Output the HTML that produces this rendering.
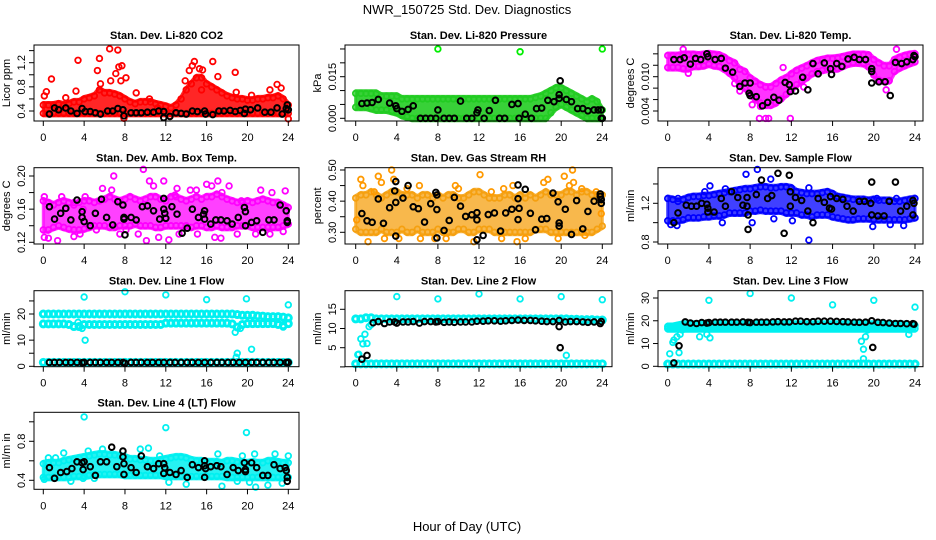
<!DOCTYPE html>
<html><head><meta charset="utf-8"><style>
html,body{margin:0;padding:0;background:#fff;}
svg{display:block;font-family:"Liberation Sans",sans-serif;}
</style></head><body>
<svg id="chart" width="936" height="540" viewBox="0 0 936 540">
<text x="467" y="14" font-size="13" text-anchor="middle">NWR_150725  Std. Dev. Diagnostics</text>
<text x="467" y="531" font-size="13" text-anchor="middle">Hour of Day (UTC)</text>
</svg>
<script>
const halfHours=[0,0.5,1,1.5,2,2.5,3,3.5,4,4.5,5,5.5,6,6.5,7,7.5,8,8.5,9,9.5,10,10.5,11,11.5,12,12.5,13,13.5,14,14.5,15,15.5,16,16.5,17,17.5,18,18.5,19,19.5,20,20.5,21,21.5,22,22.5,23,23.5,24];
const xTicks=[0,4,8,12,16,20,24];

// P1 CO2
const co2Lo=[0.36,0.36,0.36,0.36,0.36,0.36,0.36,0.36,0.36,0.36,0.36,0.36,0.36,0.36,0.36,0.36,0.36,0.36,0.36,0.36,0.36,0.36,0.36,0.36,0.36,0.36,0.36,0.36,0.36,0.36,0.36,0.36,0.36,0.36,0.36,0.36,0.36,0.36,0.36,0.36,0.36,0.36,0.36,0.36,0.36,0.36,0.36,0.36,0.36];
const co2Hi=[0.5,0.5,0.5,0.52,0.5,0.52,0.55,0.55,0.6,0.62,0.65,0.75,0.7,0.7,0.68,0.65,0.6,0.55,0.52,0.55,0.55,0.55,0.52,0.5,0.48,0.45,0.5,0.6,0.75,0.85,0.95,0.95,0.85,0.8,0.75,0.7,0.65,0.62,0.6,0.6,0.58,0.58,0.6,0.6,0.62,0.62,0.65,0.6,0.5];
const co2OutH=[0.1,0.3,0.8,2.2,3.2,3.4,5.3,5.5,5.6,6.5,6.6,7.1,7.3,7.4,7.7,7.6,8.1,7.9,9.1,10.4,13.9,14.3,14.6,14.8,15.3,15.6,15.5,16.6,17.1,18.8,18.9,22.2,22.9,23.3,24,20.4,11.2];
const co2OutV=[0.65,0.72,0.93,0.62,0.73,1.24,1.07,1.27,0.85,1.43,0.9,1.02,1.41,1.13,1.15,0.9,0.95,0.28,0.7,0.6,0.9,1.07,1.15,1.22,1.1,1.08,0.75,1.22,0.97,1.04,0.71,0.75,0.84,0.78,0.27,0.66,0.45];
const co2BlkH=[0.6,1.1,1.5,2.2,2.7,3.3,3.8,4.1,4.6,5.1,5.6,6.3,6.8,7.3,7.8,7.9,8.6,9.1,9.6,10.2,10.8,11.3,11.8,11.8,12.4,13.0,13.5,14.0,14.6,15.1,15.8,15.9,16.6,17.2,17.7,18.3,18.8,19.3,19.8,19.7,20.3,21.0,21.7,22.3,22.9,23.4,23.8,23.9,24.0];
const co2BlkV=[0.35,0.45,0.42,0.45,0.4,0.36,0.44,0.39,0.39,0.37,0.35,0.4,0.4,0.44,0.42,0.32,0.37,0.37,0.37,0.38,0.38,0.4,0.39,0.29,0.31,0.37,0.36,0.35,0.4,0.39,0.4,0.35,0.34,0.4,0.4,0.41,0.39,0.41,0.43,0.36,0.42,0.45,0.38,0.38,0.45,0.35,0.44,0.5,0.42];

// P2 Pressure
const presLo=[0.004,0.004,0.004,0.0035,0.003,0.003,0.003,0.0025,0.002,0.001,0.0005,0,0,0,0,0,0,0,0,0,0,0,0,0,0,0,0,0,0,0,0,0,0,0,0,0,0,0,0.002,0.004,0.005,0.004,0.003,0.002,0.001,0,0,0,0];
const presHi=[0.009,0.009,0.009,0.009,0.009,0.008,0.008,0.008,0.008,0.007,0.007,0.007,0.007,0.007,0.007,0.007,0.007,0.007,0.007,0.007,0.007,0.007,0.007,0.007,0.007,0.007,0.007,0.007,0.007,0.007,0.007,0.007,0.007,0.007,0.007,0.0075,0.008,0.009,0.01,0.011,0.011,0.01,0.009,0.008,0.007,0.006,0.007,0.006,0.003];
const presOutH=[8,16,24];
const presOutV=[0.025,0.024,0.025];
const presBlkH=[0.6,1.1,1.6,2.2,3.3,3.9,4.0,4.5,5.1,5.6,6.3,6.8,7.3,7.8,8.0,8.6,9.1,9.6,10.2,10.8,11.3,11.8,11.9,12.5,13.0,13.6,14.0,14.5,15.2,15.8,15.9,16.5,17.1,17.6,18.1,18.7,19.3,19.8,19.8,19.9,20.5,21.0,21.6,22.1,22.6,23.2,23.6,23.9,23.9,24];
const presBlkV=[0.0053,0.0055,0.0057,0.0068,0.0055,0.0045,0.0035,0.0025,0.0032,0.0045,0,0,0,0,0.003,0,0,0,0.0062,0,0,0.002,0.003,0,0.0028,0.0065,0,0,0.005,0.0053,0,0.0015,0,0.0035,0.0037,0.0065,0.006,0.0085,0.0072,0.0135,0.0068,0.006,0.0035,0.0035,0.0027,0.003,0.003,0.003,0,0];

// P3 Li-820 Temp
const litLo=[0.0116,0.0116,0.0116,0.0114,0.0114,0.0118,0.0118,0.0119,0.0122,0.0119,0.0118,0.0113,0.0106,0.0098,0.0088,0.008,0.0069,0.0061,0.0054,0.005,0.005,0.0054,0.0061,0.0069,0.0077,0.0086,0.0092,0.0098,0.0105,0.0109,0.0111,0.0113,0.0113,0.0114,0.0118,0.0122,0.0124,0.0124,0.0123,0.0117,0.0103,0.0094,0.0092,0.0093,0.0109,0.0115,0.0119,0.0123,0.0126];
const litHi=[0.0137,0.0137,0.0137,0.0139,0.0139,0.0139,0.0138,0.0139,0.014,0.0139,0.0138,0.0134,0.0128,0.0124,0.0113,0.0109,0.0098,0.0092,0.0086,0.0082,0.0082,0.0088,0.0094,0.0098,0.0105,0.0111,0.0115,0.0119,0.0124,0.0128,0.013,0.0132,0.0132,0.0133,0.0135,0.0137,0.0139,0.0139,0.0139,0.0138,0.013,0.0124,0.0119,0.0119,0.013,0.0134,0.0137,0.0139,0.014];
const litOutH=[1.5,2.0,8.9,9.5,9.8,11.9,8.2,7,6.5,22.2,21.2,13.2,11.2,9.0];
const litOutV=[0.0148,0.0106,0.0027,0.0027,0.0027,0.0027,0.0051,0.0075,0.0088,0.0148,0.0077,0.0082,0.0116,0.0048];
const litBlkH=[0.6,1.2,1.6,2.2,2.7,3.2,3.8,3.9,4.6,5.2,5.6,6.3,7.0,7.5,8.0,7.9,8.0,8.6,9.2,9.7,10.3,10.8,11.4,11.8,11.9,12.4,13.1,13.6,14.1,14.6,15.2,15.8,15.9,16.4,16.9,17.5,18.1,18.6,19.2,19.8,19.8,19.8,20.5,21.1,21.6,22.1,22.7,23.2,23.8,23.9,24];
const litBlkV=[0.013,0.013,0.0133,0.0122,0.0132,0.013,0.014,0.0135,0.013,0.0132,0.0115,0.0108,0.0083,0.0089,0.0089,0.0071,0.0067,0.0065,0.0049,0.0055,0.0064,0.0059,0.009,0.0086,0.0074,0.0075,0.0099,0.0077,0.0123,0.0105,0.0124,0.0114,0.0104,0.0123,0.0118,0.0131,0.0134,0.013,0.013,0.0114,0.0109,0.0089,0.0091,0.0091,0.0067,0.0125,0.0123,0.0126,0.013,0.0137,0.0135];

// P4 Amb Box Temp
const boxLo=[0.135,0.135,0.138,0.14,0.138,0.136,0.135,0.135,0.136,0.138,0.14,0.14,0.14,0.138,0.138,0.14,0.14,0.14,0.142,0.14,0.14,0.14,0.138,0.138,0.14,0.14,0.14,0.14,0.14,0.138,0.14,0.14,0.138,0.138,0.14,0.138,0.138,0.138,0.14,0.14,0.14,0.138,0.138,0.138,0.138,0.138,0.138,0.14,0.142];
const boxHi=[0.17,0.168,0.165,0.168,0.17,0.168,0.165,0.168,0.17,0.17,0.168,0.17,0.172,0.175,0.172,0.17,0.172,0.175,0.172,0.17,0.172,0.175,0.175,0.172,0.17,0.175,0.175,0.172,0.17,0.172,0.175,0.172,0.175,0.175,0.178,0.175,0.172,0.17,0.168,0.168,0.17,0.168,0.17,0.172,0.17,0.168,0.168,0.165,0.162];
const boxOutH=[0.1,0.1,0.5,1.4,1.8,3.0,3.6,3.9,5.8,6.7,6.9,7.5,8.1,9.3,9.8,10.1,10.4,10.8,11.3,11.8,12.3,13.1,13.3,14.4,15.0,15.1,16.0,16.5,16.8,17.1,17.4,17.5,18.2,19.0,20.8,21.3,22.2,22.4,23.5,23.7,4.1,3.0,5.2,12.9,19.4];
const boxOutV=[0.175,0.126,0.125,0.122,0.175,0.168,0.13,0.16,0.185,0.183,0.2,0.13,0.135,0.13,0.208,0.122,0.194,0.188,0.126,0.194,0.123,0.185,0.13,0.183,0.183,0.13,0.19,0.188,0.126,0.194,0.125,0.18,0.188,0.13,0.13,0.183,0.13,0.18,0.133,0.182,0.175,0.127,0.135,0.177,0.17];
const boxBlkH=[0.6,1.1,1.7,2.2,2.7,3.3,3.8,3.8,4.0,4.6,5.1,5.7,6.2,6.8,7.3,7.8,7.9,7.9,8.0,8.6,9.1,9.7,10.2,10.8,11.4,11.8,11.8,11.9,12.0,12.6,13.1,13.6,14.1,14.6,15.2,15.8,15.7,15.8,16.4,16.9,17.4,18.0,18.5,19.1,19.7,19.8,19.8,20.4,20.9,21.5,22.1,22.6,23.2,23.8,23.9,23.9];
const boxBlkV=[0.163,0.148,0.155,0.161,0.147,0.171,0.157,0.15,0.145,0.14,0.155,0.172,0.15,0.141,0.169,0.165,0.15,0.148,0.129,0.15,0.147,0.163,0.164,0.158,0.148,0.173,0.16,0.155,0.149,0.163,0.154,0.131,0.137,0.16,0.15,0.158,0.154,0.148,0.142,0.147,0.147,0.146,0.142,0.15,0.162,0.157,0.14,0.144,0.146,0.132,0.147,0.147,0.165,0.158,0.144,0.146];

// P5 Gas Stream RH
const rhLo=[0.31,0.3,0.3,0.3,0.3,0.31,0.3,0.3,0.3,0.31,0.3,0.3,0.31,0.3,0.3,0.3,0.31,0.3,0.3,0.3,0.31,0.31,0.3,0.3,0.31,0.31,0.31,0.3,0.3,0.3,0.3,0.3,0.3,0.3,0.3,0.31,0.31,0.31,0.3,0.3,0.3,0.3,0.3,0.3,0.3,0.3,0.3,0.31,0.32];
const rhHi=[0.41,0.42,0.42,0.43,0.42,0.41,0.42,0.43,0.43,0.42,0.42,0.42,0.41,0.42,0.42,0.41,0.42,0.41,0.42,0.42,0.41,0.41,0.42,0.43,0.43,0.42,0.41,0.41,0.41,0.42,0.42,0.41,0.42,0.41,0.42,0.41,0.42,0.43,0.42,0.42,0.42,0.43,0.43,0.42,0.43,0.43,0.42,0.42,0.42];
const rhOutH=[0.5,0.7,2.2,2.5,3.5,3.7,1.2,2.8,4.2,6.2,6.3,7.7,8.8,9.7,10.0,12.1,11.5,14.2,14.4,15.3,15.7,16.5,18.3,18.7,19.7,20.3,21.1,21.2,20.8,22.0,22.3,23.4,23.9,0.1,1.8,5.0,13.2];
const rhOutV=[0.47,0.45,0.48,0.46,0.5,0.47,0.27,0.28,0.28,0.45,0.28,0.28,0.28,0.45,0.44,0.485,0.27,0.28,0.44,0.45,0.27,0.28,0.46,0.47,0.28,0.48,0.5,0.46,0.45,0.44,0.29,0.43,0.36,0.34,0.43,0.44,0.43];
const rhBlkH=[0.6,1.1,1.6,2.2,2.7,3.3,3.8,3.9,3.9,3.9,4.6,5.1,5.6,6.1,6.7,7.3,7.8,7.9,7.9,7.9,8.6,9.1,9.6,10.2,10.7,11.3,11.8,11.8,11.8,12.4,12.9,13.5,14.1,14.6,15.2,15.8,15.8,15.8,15.9,16.5,17.0,17.5,18.1,18.6,19.2,19.7,19.8,19.8,20.4,21.0,21.5,22.1,22.6,23.2,23.8,23.8,23.9,23.9];
const rhBlkV=[0.36,0.337,0.332,0.407,0.329,0.379,0.433,0.463,0.288,0.396,0.41,0.45,0.382,0.376,0.333,0.392,0.428,0.42,0.373,0.282,0.306,0.338,0.412,0.384,0.351,0.356,0.363,0.34,0.276,0.29,0.357,0.362,0.304,0.362,0.374,0.452,0.408,0.341,0.377,0.438,0.361,0.308,0.342,0.344,0.426,0.398,0.33,0.32,0.374,0.293,0.402,0.311,0.367,0.4,0.423,0.415,0.405,0.393];

// P6 Sample Flow
const sfLo=[1.02,1.02,1.02,1.03,1.05,1.05,1.05,1.06,1.06,1.07,1.07,1.08,1.1,1.1,1.1,1.1,1.12,1.12,1.13,1.12,1.12,1.12,1.12,1.1,1.1,1.1,1.08,1.08,1.06,1.08,1.08,1.08,1.06,1.05,1.04,1.03,1.03,1.04,1.04,1.04,1.03,1.03,1.03,1.03,1.03,1.03,1.03,1.04,1.05];
const sfHi=[1.25,1.24,1.22,1.24,1.26,1.27,1.27,1.28,1.28,1.29,1.3,1.31,1.32,1.33,1.34,1.35,1.35,1.36,1.37,1.37,1.36,1.36,1.37,1.37,1.36,1.32,1.31,1.3,1.3,1.3,1.31,1.32,1.3,1.27,1.26,1.25,1.24,1.24,1.24,1.23,1.24,1.23,1.23,1.23,1.22,1.22,1.23,1.24,1.25];
const sfOutH=[0.3,0.9,3.6,4.1,5.3,7.6,8.2,8.7,10.0,10.3,13.7,13.7,12.1,19.9,20.3,21.6,22.2,22.9,23.5,24.0,5.6,1.0];
const sfOutV=[0.98,0.97,1.32,1.38,1.0,1.5,1.0,1.55,1.45,1.04,0.82,1.36,1.02,0.96,1.25,0.98,1.25,0.97,1.24,1.05,1.35,1.25];
const sfBlkH=[0.6,1.0,1.8,2.3,2.8,3.3,3.8,3.9,3.9,4.5,5.2,5.6,6.2,6.8,7.3,7.7,7.7,7.8,7.8,8.6,9.1,9.7,10.1,10.7,11.3,11.8,11.9,11.9,12.4,13.0,13.6,14.1,14.6,15.2,15.8,15.7,15.9,16.4,17.0,17.4,18.0,18.6,19.1,19.7,19.8,19.8,20.4,21.0,21.5,22.1,22.6,23.2,23.8,23.8,23.9];
const sfBlkV=[1.0,1.1,1.18,1.17,1.17,1.2,1.19,1.11,1.15,1.11,1.25,1.17,1.32,1.26,1.18,1.17,1.26,1.08,0.93,1.29,1.44,1.25,1.28,1.51,0.89,1.49,1.32,1.17,1.26,1.23,1.12,1.0,1.25,1.21,1.27,1.15,1.14,1.25,1.24,1.17,1.12,1.22,1.22,1.2,1.08,1.42,1.07,1.07,1.22,1.42,1.12,1.17,1.23,1.08,1.2];

// P7 Line 1 Flow
const l1BandA=[20,20,20,20,20,20,20,20,20,20,20,20,20,20,20,20,20,20,20,20,20,20,20,20,20,20,20,20,20,20,20,20,20,20,20,20,20,20,19.8,19.5,19.5,19.5,19.3,19.2,19,19,19,18.8,18.5];
const l1BandB=[16.2,16.2,16.2,16.2,16.2,16,15.2,15.2,16,16,16,16,16,16,16,16,16,16,16,16,16,16,16,16,16.5,16.5,16.5,16.5,16.5,16.5,16.5,16.5,16.5,16.5,16.5,16.5,16.5,16.2,15,16,16.3,16.3,16.3,16.3,16.3,16.3,16,15.5,16.3];
const l1Base=[1.5,1.5,1.5,1.5,1.5,1.5,1.5,1.5,1.5,1.5,1.5,1.5,1.5,1.5,1.5,1.5,1.5,1.5,1.5,1.5,1.5,1.5,1.5,1.5,1.5,1.5,1.5,1.5,1.5,1.5,1.5,1.5,1.5,1.5,1.5,1.5,1.5,1.5,1.5,1.5,1.5,1.5,1.5,1.5,1.5,1.5,1.5,1.5,1.5];
const l1OutH=[4.0,8.0,12.0,16.0,19.9,24.0,4.1,18.8,19.0,18.9,19.3,20.4,3.8,3.4,23.5];
const l1OutV=[26.5,28.5,27.3,25.5,25.8,23.5,10,13,5,3.5,14.5,6.5,14.5,16.8,15];
const l1BlkH=[0.6,1.1,1.6,2.2,2.7,3.3,3.8,4.0,4.6,5.1,5.6,6.2,6.7,7.3,7.8,8.0,8.6,9.1,9.6,10.2,10.7,11.3,11.8,12.4,12.9,13.5,14.1,14.6,15.2,15.8,16.4,17.0,17.5,18.1,18.6,19.2,19.8,20.4,20.9,21.5,22.1,22.6,23.2,23.8,24.0];
const l1BlkV=[1.5,1.5,1.5,1.5,1.5,1.5,1.4,1.5,1.5,1.5,1.5,1.5,1.5,1.5,1.5,1.2,1.5,1.5,1.5,1.5,1.5,1.5,1.5,1.5,1.5,1.5,1.5,1.5,1.5,1.5,1.5,1.5,1.5,1.5,1.5,1.5,1.5,1.5,1.5,1.5,1.5,1.5,1.5,1.5,1.5];

// P8 Line 2 Flow
const l2Band=[12.5,12.5,12.8,12.8,12.5,12.5,12.5,12.5,12.5,12.5,12.5,12.5,12.5,12.5,12.5,12.5,12.5,12.5,12.5,12.5,12.5,12.5,12.5,12.5,12.5,12.5,12.5,12.5,12.5,12.5,12.5,12.5,12.5,12.5,12.5,12.5,12.5,12.5,12.5,12.5,12.5,12.5,12.4,12.4,12.3,12.3,12.3,12.2,12.2];
const l2Base=[0.8,0.8,0.8,0.8,0.8,0.8,0.8,0.8,0.8,0.8,0.8,0.8,0.8,0.8,0.8,0.8,0.8,0.8,0.8,0.8,0.8,0.8,0.8,0.8,0.8,0.8,0.8,0.8,0.8,0.8,0.8,0.8,0.8,0.8,0.8,0.8,0.8,0.8,0.8,0.8,0.8,0.8,0.8,0.8,0.8,0.8,0.8,0.8,0.8];
const l2OutH=[0.2,0.3,0.5,0.7,0.9,1.1,1.3,1.5,4.0,8.0,12.0,16.0,20.0,24.0,20.5];
const l2OutV=[3.2,3.3,7.3,6,8.5,6.1,10.5,11,18.3,17.7,19,17.7,18.3,17.5,3];
const l2BlkH=[0.6,1.1,1.7,2.2,2.8,3.3,3.8,4.0,4.6,5.1,5.6,6.2,6.7,7.3,7.8,8.0,8.6,9.1,9.6,10.2,10.7,11.3,11.8,12.4,12.9,13.5,14.1,14.6,15.2,15.8,16.4,17.0,17.5,18.1,18.6,19.2,19.8,19.8,19.9,20.4,20.9,21.5,22.1,22.6,23.2,23.8,23.9];
const l2BlkV=[2,3,11.5,11.8,11.3,11.7,11.7,11.4,11.7,11.7,11.8,11.4,11.8,11.8,11.7,11.8,11.6,11.7,11.6,11.7,11.7,11.7,11.9,11.9,12,12,11.9,12,12.1,12.2,12.1,12.1,12,11.9,11.8,11.8,12.1,10.5,5,11.7,11.8,11.8,11.7,11.6,11.7,11.3,11.8];

// P9 Line 3 Flow
const l3Lo=[16.5,16.5,16.5,16.5,16.5,16.5,16.5,16.5,16.5,16.5,16.5,16.5,16.5,16.5,16.5,16.5,16.5,16.5,16.5,16.5,16.5,16.5,16.5,16.5,16.5,16.5,16.5,16.5,16.5,16.5,16.5,16.5,16.5,16.5,16.5,16.5,16.5,16.5,16.5,16.5,16.5,16.5,16.5,16.5,16.5,16.5,16.5,16.5,16.5];
const l3Hi=[17.5,17.5,18,18.5,18.5,18.5,18.5,18.5,18.5,18.5,18.5,18.5,18.5,18.5,18.5,18.5,18.5,18.5,18.5,18.5,18.5,18.5,18.5,18.5,18.5,18.5,18.5,18.5,18.5,18.5,18.5,18.5,18.5,18.5,18.5,18.5,18.5,18.5,18.5,18.5,18.5,18.5,18.5,18.5,18.5,18.5,18.3,18,18];
const l3Base=[1,1,1,1,1,1,1,1,1,1,1,1,1,1,1,1,1,1,1,1,1,1,1,1,1,1,1,1,1,1,1,1,1,1,1,1,1,1,1,1,1,1,1,1,1,1,1,1,1];
const l3OutH=[0.1,0.2,0.5,0.6,0.9,1.1,1.2,1.4,1.6,3.1,3.8,4.1,18.8,19.0,19.2,19.0,19.4,23.4,23.5,4,8,12,16,20,24];
const l3OutV=[1,5.5,10.5,11.5,13,6,14,16,18,13,14,12.5,11,7.5,13,3.3,16,14,16,29,32,30,27,29,26];
const l3BlkH=[0.6,1.1,1.7,2.2,2.8,3.3,3.8,4.0,4.6,5.1,5.6,6.2,6.7,7.3,7.8,8.0,8.6,9.1,9.6,10.2,10.7,11.3,11.8,12.4,12.9,13.5,14.1,14.6,15.2,15.8,16.4,17.0,17.5,18.1,18.6,19.2,19.8,19.9,20.4,20.9,21.5,22.1,22.6,23.2,23.8,23.9];
const l3BlkV=[1.5,9,19.5,19,18.8,19.2,19,19.2,19.4,19.4,19.4,19.4,19.4,19.5,19.3,19.2,19.4,19.4,19.4,19.5,19.6,19.5,19.5,19.8,19.8,19.6,19.6,19.8,19.8,19.8,19.7,19.6,19.5,19.4,19.3,19.4,20,8.3,19.3,19.2,19,18.8,18.8,18.7,18.7,18.5];

// P10 Line 4 (LT) Flow
const l4Lo=[0.43,0.43,0.43,0.43,0.43,0.43,0.44,0.44,0.44,0.45,0.46,0.46,0.46,0.46,0.46,0.46,0.45,0.45,0.45,0.45,0.45,0.45,0.45,0.45,0.44,0.44,0.44,0.44,0.44,0.44,0.44,0.44,0.44,0.44,0.44,0.44,0.43,0.43,0.43,0.43,0.43,0.43,0.43,0.43,0.43,0.43,0.43,0.43,0.43];
const l4Hi=[0.57,0.58,0.58,0.58,0.6,0.61,0.62,0.63,0.64,0.65,0.66,0.67,0.67,0.66,0.66,0.65,0.64,0.62,0.62,0.61,0.61,0.6,0.6,0.61,0.62,0.63,0.64,0.64,0.63,0.61,0.6,0.6,0.59,0.59,0.59,0.58,0.6,0.6,0.59,0.58,0.58,0.59,0.58,0.58,0.6,0.6,0.59,0.58,0.58];
const l4OutH=[0.1,0.5,1.2,2.0,2.7,3.9,4.0,4.4,5.0,5.8,9.5,10.3,11.4,12.0,12.3,14.0,17.1,17.5,19.0,19.5,19.9,20.2,20.7,20.8,22.0,22.7,23.4,24.0];
const l4OutV=[0.41,0.63,0.63,0.68,0.39,0.42,1.05,0.7,0.42,0.72,0.72,0.73,0.65,0.94,0.38,0.36,0.67,0.34,0.39,0.65,0.89,0.38,0.67,0.33,0.35,0.67,0.37,0.65];
const l4BlkH=[0.6,1.1,1.7,2.3,2.8,3.3,3.8,3.9,4.0,4.6,5.1,5.6,6.2,6.7,7.2,7.8,7.8,7.9,7.9,8.6,9.1,9.6,10.2,10.8,11.3,11.8,11.8,11.9,12.4,13.0,13.5,14.1,14.6,15.2,15.8,15.8,15.8,15.9,16.4,17.0,17.4,18.0,18.6,19.1,19.7,19.8,19.8,20.4,20.9,21.5,22.0,22.6,23.2,23.7,23.8,23.9,23.9];
const l4BlkV=[0.53,0.42,0.48,0.49,0.52,0.59,0.58,0.51,0.59,0.54,0.45,0.59,0.59,0.74,0.54,0.7,0.64,0.46,0.57,0.53,0.48,0.65,0.54,0.52,0.57,0.57,0.47,0.53,0.48,0.46,0.5,0.43,0.56,0.53,0.6,0.55,0.43,0.52,0.54,0.55,0.54,0.46,0.53,0.5,0.58,0.51,0.49,0.58,0.53,0.45,0.45,0.56,0.52,0.53,0.5,0.43,0.39];

const NS='http://www.w3.org/2000/svg';
const svg=document.getElementById('chart');
function mk(tag,attrs,parent){const e=document.createElementNS(NS,tag);for(const k in attrs)e.setAttribute(k,attrs[k]);(parent||svg).appendChild(e);return e;}

const cols=[{L:34,R:299,x0:43.3,x24:288.3},{L:345,R:612,x0:355.7,x24:602.3},{L:658,R:923,x0:667.7,x24:915}];
const rows=[{T:45,B:121},{T:167.7,B:244},{T:290.7,B:366.7},{T:412.3,B:489.3}];

const panels=[
 {key:'co2',title:'Stan. Dev. Li-820 CO2',ylab:'Licor ppm',c:0,r:0,v1:0.4,p1:111,v2:1.2,p2:62.7,ticks:[0.4,0.6,0.8,1.0,1.2,1.4],labs:['0.4','','0.8','','1.2',''],color:'#ff0000',op:0.85,bands:[[co2Lo,co2Hi]],lines:[],out:[co2OutH,co2OutV],blk:[co2BlkH,co2BlkV]},
 {key:'pressure',title:'Stan. Dev. Li-820 Pressure',ylab:'kPa',c:1,r:0,v1:0,p1:118.3,v2:0.015,p2:76.7,ticks:[0,0.005,0.01,0.015,0.02,0.025],labs:['0.000','','','0.015','',''],color:'#22cc22',op:0.9,bands:[[presLo,presHi]],lines:[],out:[presOutH,presOutV],blk:[presBlkH,presBlkV],outColor:'#00ee00'},
 {key:'li-temp',title:'Stan. Dev. Li-820 Temp.',ylab:'degrees C',c:2,r:0,v1:0.004,p1:111,v2:0.010,p2:76.7,ticks:[0.004,0.006,0.008,0.010,0.012,0.014],labs:['0.004','','','0.010','',''],color:'#ff00ff',op:0.8,bands:[[litLo,litHi]],lines:[],out:[litOutH,litOutV],blk:[litBlkH,litBlkV]},
 {key:'box-temp',title:'Stan. Dev. Amb. Box Temp.',ylab:'degrees C',c:0,r:1,v1:0.12,p1:242.3,v2:0.20,p2:176,ticks:[0.12,0.14,0.16,0.18,0.20],labs:['0.12','','0.16','','0.20'],color:'#ff00ff',op:0.75,bands:[[boxLo,boxHi]],lines:[],out:[boxOutH,boxOutV],blk:[boxBlkH,boxBlkV]},
 {key:'rh',title:'Stan. Dev. Gas Stream RH',ylab:'percent',c:1,r:1,v1:0.30,p1:232.3,v2:0.50,p2:170,ticks:[0.30,0.35,0.40,0.45,0.50],labs:['0.30','','0.40','','0.50'],color:'#f5a010',op:0.75,bands:[[rhLo,rhHi]],lines:[],out:[rhOutH,rhOutV],blk:[rhBlkH,rhBlkV],outColor:'#ff9900'},
 {key:'sample-flow',title:'Stan. Dev. Sample Flow',ylab:'ml/min',c:2,r:1,v1:0.8,p1:242,v2:1.2,p2:203.3,ticks:[0.8,1.0,1.2,1.4],labs:['0.8','','1.2',''],color:'#0000ff',op:0.75,bands:[[sfLo,sfHi]],lines:[],out:[sfOutH,sfOutV],blk:[sfBlkH,sfBlkV]},
 {key:'line1',title:'Stan. Dev. Line 1 Flow',ylab:'ml/min',c:0,r:2,v1:0,p1:366.3,v2:20,p2:314,ticks:[0,5,10,15,20,25],labs:['0','','10','','20',''],color:'#00f0f0',op:1,bands:[],lines:[l1BandA,l1BandB,l1Base],out:[l1OutH,l1OutV],blk:[l1BlkH,l1BlkV]},
 {key:'line2',title:'Stan. Dev. Line 2 Flow',ylab:'ml/min',c:1,r:2,v1:0,p1:366.9,v2:15,p2:309.3,ticks:[0,5,10,15],labs:['','5','10','15'],color:'#00f0f0',op:1,bands:[],lines:[l2Band,l2Base],out:[l2OutH,l2OutV],blk:[l2BlkH,l2BlkV]},
 {key:'line3',title:'Stan. Dev. Line 3 Flow',ylab:'ml/min',c:2,r:2,v1:0,p1:366.3,v2:30,p2:298,ticks:[0,10,20,30],labs:['0','10','20','30'],color:'#00f0f0',op:1,bands:[[l3Lo,l3Hi]],lines:[l3Base],out:[l3OutH,l3OutV],blk:[l3BlkH,l3BlkV]},
 {key:'line4',title:'Stan. Dev. Line 4 (LT) Flow',ylab:'ml/m in',c:0,r:3,v1:0.4,p1:480.3,v2:0.8,p2:441.3,ticks:[0.4,0.6,0.8,1.0],labs:['0.4','','0.8',''],color:'#00f0f0',op:0.85,bands:[[l4Lo,l4Hi]],lines:[],out:[l4OutH,l4OutV],blk:[l4BlkH,l4BlkV]}
];

panels.forEach(p=>{
 const col=cols[p.c],row=rows[p.r];
 const xs=h=>col.x0+h*(col.x24-col.x0)/24;
 const ys=v=>p.p1+(v-p.v1)*(p.p2-p.p1)/(p.v2-p.v1);
 const g=mk('g',{});
 
 
 const t=mk('text',{x:(col.L+col.R)/2,y:row.T-6,'font-size':'11','font-weight':'bold','text-anchor':'middle'},g);
 t.textContent=p.title;
 
 
 const yl=mk('text',{x:0,y:0,'font-size':'11','text-anchor':'middle',transform:`translate(${col.L-24},${(row.T+row.B)/2}) rotate(-90)`},g);
 yl.textContent=p.ylab;
 
 
 const marks=mk('g',{},g);
 
 
 p.bands.forEach(b=>{
  let top='',bot='';
  halfHours.forEach((h,i)=>{
   top+=(i?'L':'M')+(xs(h)).toFixed(1)+','+(ys(b[1][i])-2.5).toFixed(1);
  });
  for(let i=halfHours.length-1;i>=0;i--){
   bot+='L'+(xs(halfHours[i])).toFixed(1)+','+(ys(b[0][i])+2.5).toFixed(1);
  }
  const a=mk('path',{d:top+bot+'Z',fill:p.color,'fill-opacity':p.op,stroke:p.color,'stroke-width':3,'stroke-opacity':p.op,'stroke-linejoin':'round'},marks);
  
  
  halfHours.forEach((h,i)=>{
   [b[0][i],b[1][i]].forEach(v=>{
    const c=mk('circle',{cx:xs(h),cy:ys(v),r:2.8,fill:'none',stroke:p.color,'stroke-width':1.8},marks);
    
    
   });
  });
 });
 p.lines.forEach(arr=>{
  halfHours.forEach((h,i)=>{
   const c=mk('circle',{cx:xs(h),cy:ys(arr[i]),r:3,fill:'none',stroke:p.color,'stroke-width':3},marks);
   
   
  });
 });
 p.out[0].forEach((h,i)=>{
  const c=mk('circle',{cx:xs(h),cy:ys(p.out[1][i]),r:2.8,fill:'none',stroke:p.outColor||p.color,'stroke-width':1.8},marks);
  
  
 });
 p.blk[0].forEach((h,i)=>{
  const c=mk('circle',{cx:xs(h),cy:ys(p.blk[1][i]),r:2.8,fill:'none',stroke:'#000','stroke-width':2},marks);
  
  
 });
 const box=mk('rect',{x:col.L,y:row.T,width:col.R-col.L,height:row.B-row.T,fill:'none',stroke:'#000','stroke-width':1},g);
 
 
 xTicks.forEach(v=>{
  const x=xs(v);
  const l=mk('line',{x1:x,x2:x,y1:row.B,y2:row.B+5,stroke:'#000'},g);
  
  
  const tx=mk('text',{x:x,y:row.B+20,'font-size':'11','text-anchor':'middle'},g);
  tx.textContent=v;
  
  
 });
 p.ticks.forEach((v,i)=>{
  const y=ys(v);
  const l=mk('line',{x1:col.L-5,x2:col.L,y1:y,y2:y,stroke:'#000'},g);
  
  
  if(p.labs[i]){
   const tx=mk('text',{x:0,y:0,'font-size':'11','text-anchor':'middle',transform:`translate(${col.L-9},${y}) rotate(-90)`},g);
   tx.textContent=p.labs[i];
   
   
  }
 });
});
</script>
</body></html>
